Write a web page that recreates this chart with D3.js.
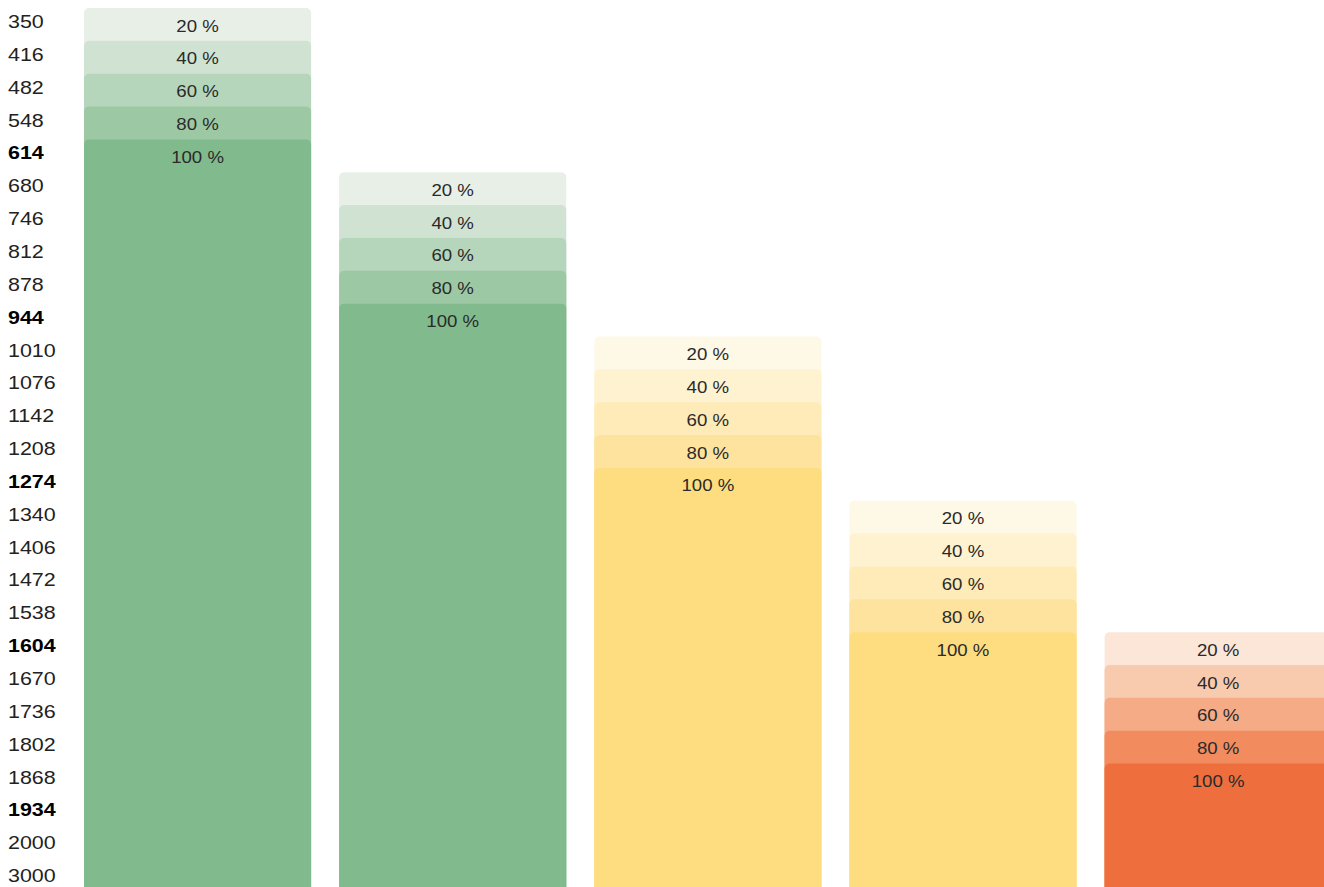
<!DOCTYPE html>
<html>
<head>
<meta charset="utf-8">
<script src="https://cdn.jsdelivr.net/npm/d3@7"></script>
<style>
html,body{margin:0;padding:0;background:#fff;overflow:hidden;}
svg{display:block;}
text{font-family:"Helvetica Neue",Helvetica,Arial,"Liberation Sans",sans-serif;}
</style>
</head>
<body>
<svg id="chart" width="1324" height="887"></svg>
<script>
// tick labels (rows)
const tickLabels = ["350","416","482","548","614","680","746","812","878","944","1010","1076","1142","1208","1274","1340","1406","1472","1538","1604","1670","1736","1802","1868","1934","2000","3000"];
const boldLabels = ["614","944","1274","1604","1934"];
// columns
const columns = ["A","B","C","D","E"];
// row label where each column's 20 % step starts
const columnStart = ["350","680","1010","1340","1604"];
// steps
const steps = [20, 40, 60, 80, 100];
// palettes per column (light -> dark)
const greenShades  = ["#e8efe7","#d0e3d3","#b6d6bc","#9cc8a4","#81ba8c"];
const yellowShades = ["#fef8e6","#fef2d0","#feebb8","#fee39e","#fedd80"];
const orangeShades = ["#fbe6d7","#f8caae","#f5ab86","#f28c5f","#ee6f3d"];
const columnPalette = [greenShades, greenShades, yellowShades, yellowShades, orangeShades];

const W = 1324, H = 887;
const svg = d3.select("#chart");

const rowH = 32.85;
const y = d3.scaleBand().domain(tickLabels).range([8, 8 + tickLabels.length * rowH]).padding(0);
const x = d3.scaleBand().domain(columns).range([84, 84 + 4 * 255.17 + 227]).paddingInner(0.11).paddingOuter(0);

// y labels
const sx = 1.13;
svg.append("g").selectAll("text").data(tickLabels).join("text")
  .attr("transform", d => `translate(8,${y(d) + 20}) scale(${sx},1)`)
  .attr("font-size", 19)
  .attr("font-weight", d => boldLabels.includes(d) ? "bold" : "normal")
  .attr("fill", d => boldLabels.includes(d) ? "#000" : "#222")
  .text(d => d);

// bars
const segs = [];
columns.forEach((c, ci) => {
  const startIdx = tickLabels.indexOf(columnStart[ci]);
  steps.forEach((s, si) => {
    segs.push({col: c, row: tickLabels[startIdx + si], step: s, color: columnPalette[ci][si]});
  });
});

const g = svg.append("g");
g.selectAll("rect").data(segs).join("rect")
  .attr("x", d => x(d.col))
  .attr("y", d => y(d.row))
  .attr("width", x.bandwidth())
  .attr("height", d => H + 20 - y(d.row))
  .attr("rx", 5).attr("ry", 5)
  .attr("fill", d => d.color);

g.selectAll("text").data(segs).join("text")
  .attr("transform", d => `translate(${x(d.col) + x.bandwidth() / 2},${y(d.row) + 23.5}) scale(${sx},1)`)
  .attr("text-anchor", "middle")
  .attr("font-size", 16.5)
  .attr("fill", "#2a2a2a")
  .text(d => d.step + " %");
</script>
</body>
</html>
